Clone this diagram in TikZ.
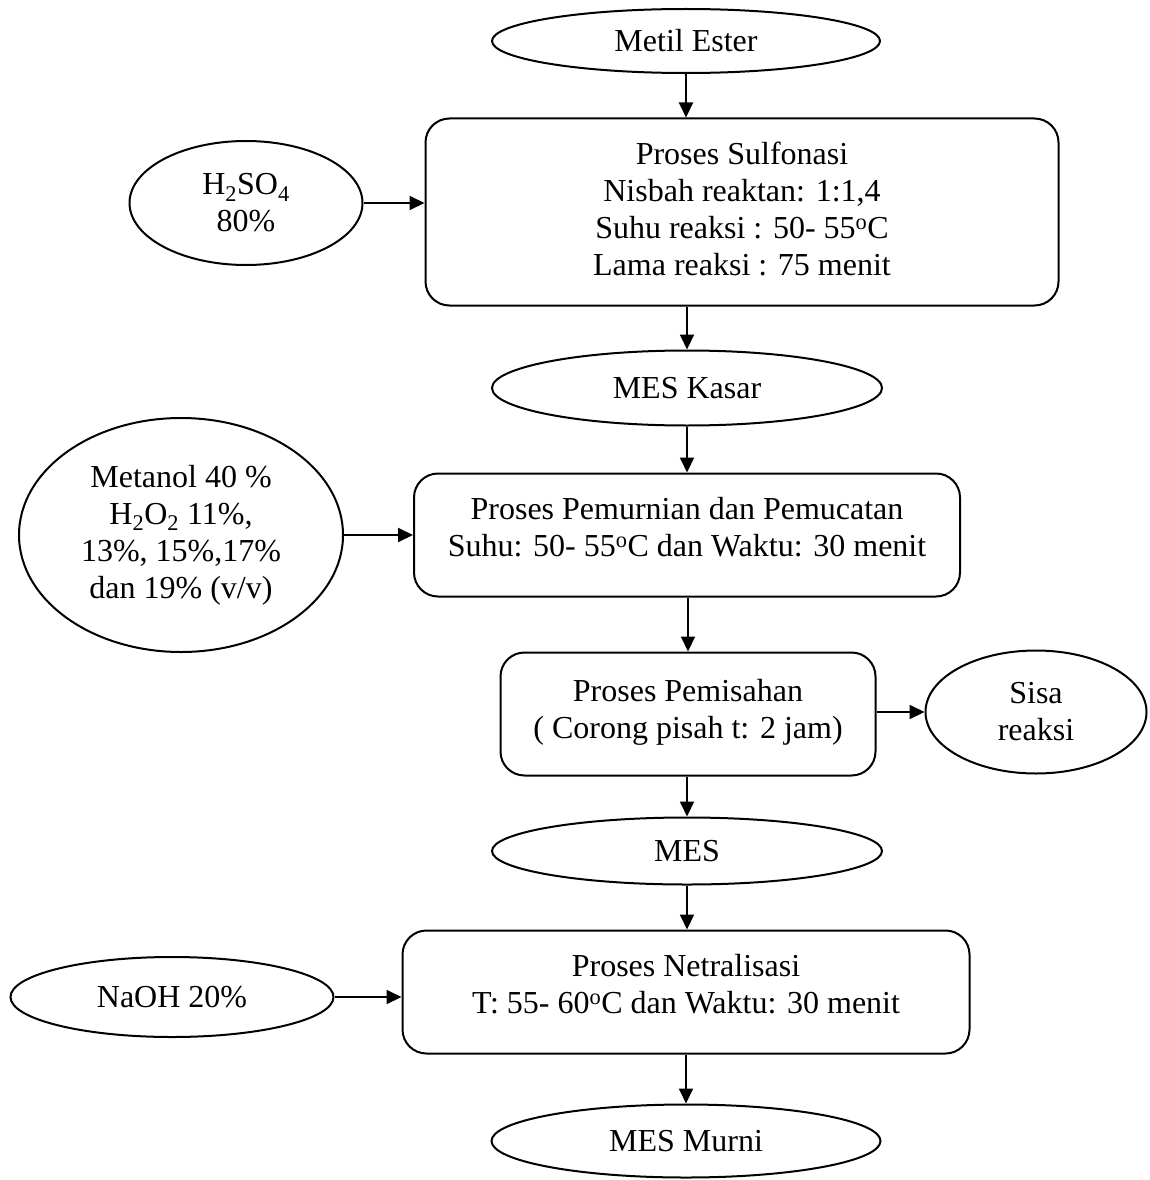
\documentclass[tikz,border=0pt]{standalone}
\usepackage{fontspec}
\setmainfont{Liberation Serif}
\usetikzlibrary{arrows.meta,shapes.geometric}

\begin{document}
\begin{tikzpicture}[
  x=1pt, y=-1pt,
  every node/.style={font=\fontsize{32}{37}\selectfont},
  proc/.style={draw, rounded corners=24pt, align=center, inner sep=0pt, line width=2pt, text depth=16pt},
  bahan/.style={draw, ellipse, align=center, inner sep=0pt, line width=2pt},
  arr/.style={-{Triangle[length=15pt,width=14pt]}, line width=2pt},
]
\useasboundingbox (0,0) rectangle (1149,1180);

\node[bahan, minimum width=388pt, minimum height=64pt] (metil) at (686, 41) {Metil Ester};
\node[proc, minimum width=633pt, minimum height=187pt, text depth=6pt] (sulf) at (742, 212) {Proses Sulfonasi\\Nisbah reaktan: 1:1,4\\Suhu reaksi : 50- 55\textsuperscript{o}C\\Lama reaksi : 75 menit};
\node[bahan, minimum width=233pt, minimum height=124pt] (h2so4) at (246, 203) {H\textsubscript{2}SO\textsubscript{4}\\80\%};
\draw[arr] (metil.south) -- (metil.south |- sulf.north);
\draw[arr] (h2so4.east) -- (h2so4.east -| sulf.west);

\node[bahan, minimum width=390pt, minimum height=75pt] (kasar) at (687, 388) {MES Kasar};
\node[proc, minimum width=546pt, minimum height=123pt] (murn) at (687, 535) {Proses Pemurnian dan Pemucatan\\Suhu: 50- 55\textsuperscript{o}C dan Waktu: 30 menit};
\node[bahan, minimum width=324pt, minimum height=234pt] (metanol) at (181, 535) {Metanol 40 \%\\H\textsubscript{2}O\textsubscript{2} 11\%,\\13\%, 15\%,17\%\\dan 19\% (v/v)};
\draw[arr] (kasar.north |- sulf.south) -- (kasar.north);
\draw[arr] (kasar.south) -- (kasar.south |- murn.north);
\draw[arr] (metanol.east) -- (metanol.east -| murn.west);

\node[proc, minimum width=375pt, minimum height=123pt, text depth=10pt] (pisah) at (688, 714) {Proses Pemisahan\\( Corong pisah t: 2 jam)};
\node[bahan, minimum width=221pt, minimum height=123pt] (sisa) at (1036, 712) {Sisa\\reaksi};
\draw[arr] (pisah.north |- murn.south) -- (pisah.north);
\draw[arr] (pisah.east |- sisa.west) -- (sisa.west);

\node[bahan, minimum width=390pt, minimum height=67pt] (mes) at (687, 851) {MES};
\node[proc, minimum width=567pt, minimum height=123pt] (netral) at (686, 992) {Proses Netralisasi\\T: 55- 60\textsuperscript{o}C dan Waktu: 30 menit};
\node[bahan, minimum width=323pt, minimum height=80pt] (naoh) at (172, 997) {NaOH 20\%};
\node[bahan, minimum width=389pt, minimum height=73pt] (murni) at (686, 1141) {MES Murni};
\draw[arr] (mes.north |- pisah.south) -- (mes.north);
\draw[arr] (mes.south) -- (mes.south |- netral.north);
\draw[arr] (naoh.east) -- (naoh.east -| netral.west);
\draw[arr] (murni.north |- netral.south) -- (murni.north);
\end{tikzpicture}
\end{document}
